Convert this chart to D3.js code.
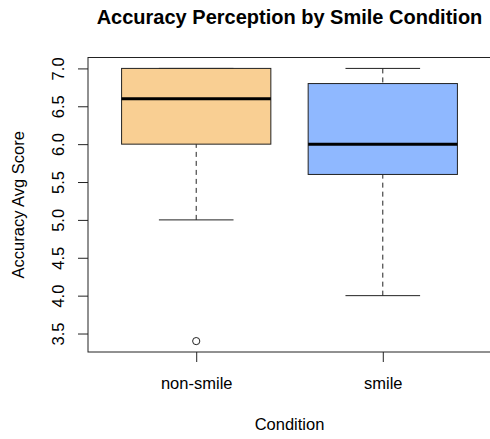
<!DOCTYPE html>
<html lang="en">
<head>
  <meta charset="UTF-8">
  <script src="https://d3js.org/d3.v7.min.js"></script>
  <title>Accuracy Perception by Smile Condition</title>
  <style>
    body { margin: 0; background: #fff; }
    svg { display: block; font-family: "Liberation Sans", Arial, Helvetica, sans-serif; }
  </style>
</head>
<body>
  <script>
    // data
    const categories = ["non-smile", "smile"]
    const lowerWhisker = [5.0, 4.0]
    const q1 = [6.0, 5.6]
    const median = [6.6, 6.0]
    const q3 = [7.0, 6.8]
    const upperWhisker = [7.0, 7.0]
    const outliers = [[3.4], []]
    const boxColors = ["#F9CF93", "#8FB8FF"]
    const yTicks = [3.5, 4.0, 4.5, 5.0, 5.5, 6.0, 6.5, 7.0]

    const dimension = {
      width: 490,
      height: 439,
      margin: { top: 57.5, right: -1, bottom: 87, left: 88 }
    }
    dimension.boundedWidth = dimension.width - dimension.margin.left - dimension.margin.right
    dimension.boundedHeight = dimension.height - dimension.margin.top - dimension.margin.bottom

    const svg = d3.select("body")
      .append("svg")
      .attr("width", dimension.width)
      .attr("height", dimension.height)

    const bounds = svg.append("g")
      .attr("transform", `translate(${dimension.margin.left}, ${dimension.margin.top})`)

    // R style: x range 0.5..2.5 widened 4%, y range widened 4%
    const xScale = d3.scaleLinear()
      .domain([0.42, 2.58])
      .range([0, dimension.boundedWidth])

    const yMin = 3.4, yMax = 7.0, pad = (yMax - yMin) * 0.04
    const yScale = d3.scaleLinear()
      .domain([yMin - pad, yMax + pad])
      .range([dimension.boundedHeight, 0])

    const boxHalf = (xScale(1.4) - xScale(1)) 
    const capHalf = boxHalf / 2

    const groups = bounds.selectAll(".box")
      .data(categories)
      .join("g")
      .attr("class", "box")

    // dashed whiskers
    groups.append("line")
      .attr("x1", (d, i) => xScale(i + 1)).attr("x2", (d, i) => xScale(i + 1))
      .attr("y1", (d, i) => yScale(lowerWhisker[i])).attr("y2", (d, i) => yScale(q1[i]))
      .attr("stroke", "#222").attr("stroke-dasharray", "5,4")
    groups.append("line")
      .attr("x1", (d, i) => xScale(i + 1)).attr("x2", (d, i) => xScale(i + 1))
      .attr("y1", (d, i) => yScale(upperWhisker[i])).attr("y2", (d, i) => yScale(q3[i]))
      .attr("stroke", "#222").attr("stroke-dasharray", "5,4")

    // caps
    groups.append("line")
      .attr("x1", (d, i) => xScale(i + 1) - capHalf).attr("x2", (d, i) => xScale(i + 1) + capHalf)
      .attr("y1", (d, i) => yScale(lowerWhisker[i])).attr("y2", (d, i) => yScale(lowerWhisker[i]))
      .attr("stroke", "#222")
    groups.append("line")
      .attr("x1", (d, i) => xScale(i + 1) - capHalf).attr("x2", (d, i) => xScale(i + 1) + capHalf)
      .attr("y1", (d, i) => yScale(upperWhisker[i])).attr("y2", (d, i) => yScale(upperWhisker[i]))
      .attr("stroke", "#222")

    // boxes
    groups.append("rect")
      .attr("x", (d, i) => xScale(i + 1) - boxHalf)
      .attr("width", boxHalf * 2)
      .attr("y", (d, i) => yScale(q3[i]))
      .attr("height", (d, i) => yScale(q1[i]) - yScale(q3[i]))
      .attr("fill", (d, i) => boxColors[i])
      .attr("stroke", "#222")

    // medians
    groups.append("line")
      .attr("x1", (d, i) => xScale(i + 1) - boxHalf).attr("x2", (d, i) => xScale(i + 1) + boxHalf)
      .attr("y1", (d, i) => yScale(median[i])).attr("y2", (d, i) => yScale(median[i]))
      .attr("stroke", "#000").attr("stroke-width", 3)

    // outliers
    groups.each(function(d, i) {
      d3.select(this).selectAll("circle")
        .data(outliers[i])
        .join("circle")
        .attr("cx", xScale(i + 1))
        .attr("cy", v => yScale(v))
        .attr("r", 3.6)
        .attr("fill", "none")
        .attr("stroke", "#222")
    })

    // frame
    bounds.append("rect")
      .attr("width", dimension.boundedWidth)
      .attr("height", dimension.boundedHeight)
      .attr("fill", "none")
      .attr("stroke", "#222")

    // y axis with rotated labels
    const yAxis = bounds.append("g")
      .call(d3.axisLeft(yScale).tickValues(yTicks).tickSize(10).tickFormat(d3.format(".1f")))
    yAxis.select(".domain").remove()
    yAxis.selectAll(".tick line").attr("stroke", "#222")
    yAxis.selectAll(".tick text")
      .attr("x", null).attr("dy", null)
      .attr("transform", "translate(-24.5, 0) rotate(-90)")
      .attr("text-anchor", "middle")
      .attr("font-size", 16.5)
      .attr("font-family", null)
      .attr("fill", "#000")

    // x axis
    const xAxis = bounds.append("g")
      .attr("transform", `translate(0, ${dimension.boundedHeight})`)
      .call(d3.axisBottom(xScale).tickValues([1, 2]).tickSize(10).tickFormat((d) => categories[d - 1]))
    xAxis.select(".domain").remove()
    xAxis.selectAll(".tick line").attr("stroke", "#222")
    xAxis.selectAll(".tick text")
      .attr("y", 37).attr("dy", null)
      .attr("font-size", 16.5)
      .attr("font-family", null)
      .attr("fill", "#000")

    // titles
    svg.append("text")
      .attr("x", dimension.margin.left + dimension.boundedWidth / 2)
      .attr("y", 24)
      .attr("text-anchor", "middle")
      .attr("font-size", 20)
      .attr("font-weight", "bold")
      .text("Accuracy Perception by Smile Condition")

    svg.append("text")
      .attr("x", dimension.margin.left + dimension.boundedWidth / 2)
      .attr("y", 430)
      .attr("text-anchor", "middle")
      .attr("font-size", 16.5)
      .text("Condition")

    svg.append("text")
      .attr("transform", `translate(23.5, ${dimension.margin.top + dimension.boundedHeight / 2}) rotate(-90)`)
      .attr("text-anchor", "middle")
      .attr("font-size", 16.5)
      .text("Accuracy Avg Score")
  </script>
</body>
</html>
